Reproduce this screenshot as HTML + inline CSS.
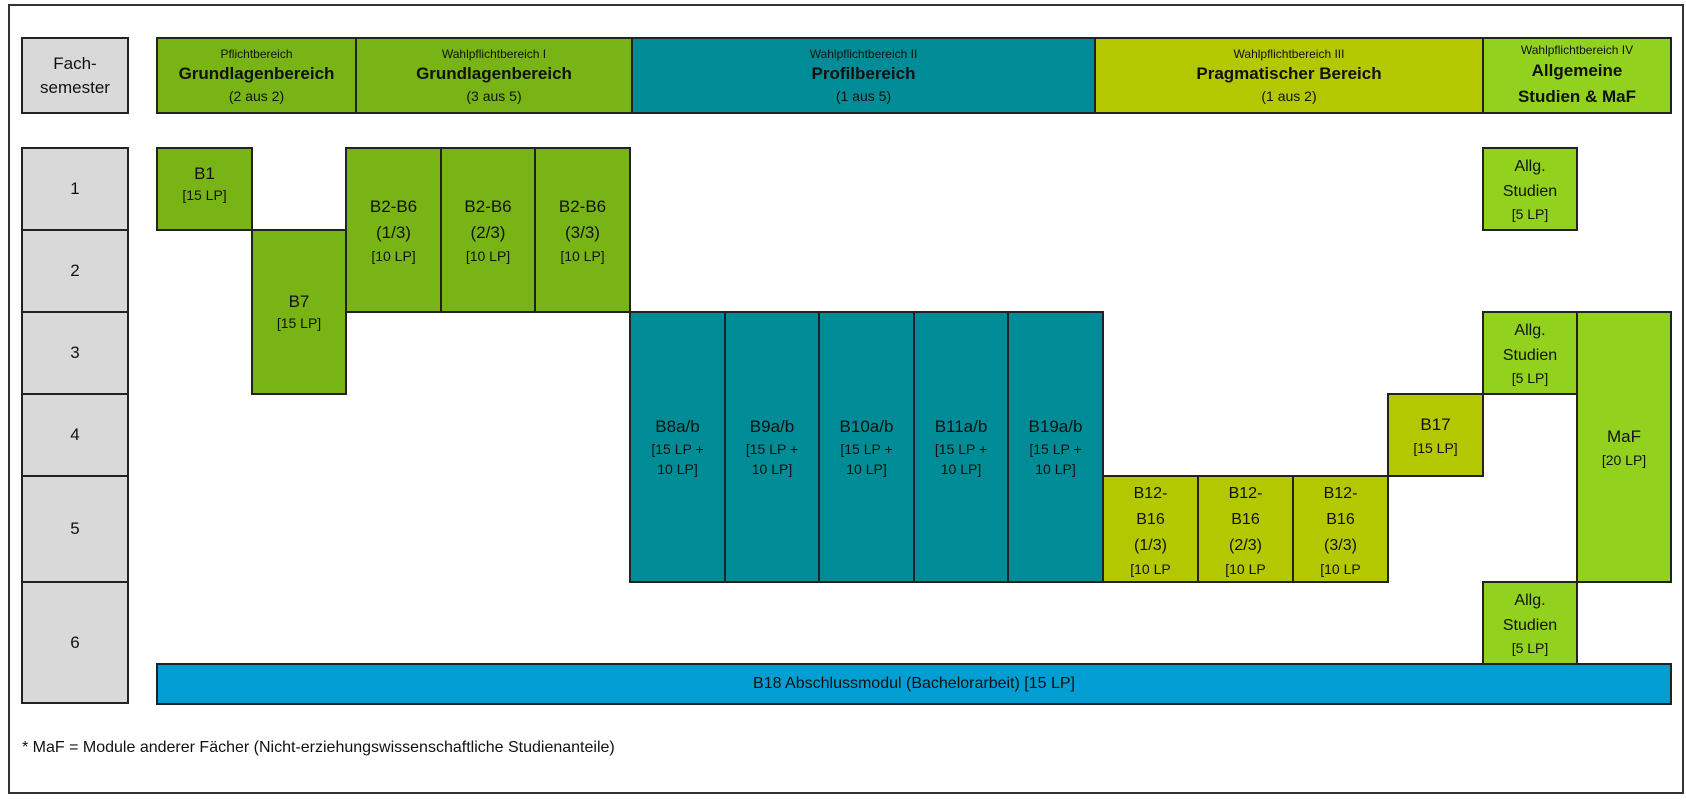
<!DOCTYPE html>
<html><head><meta charset="utf-8"><style>
body{margin:0;width:1686px;height:800px;background:#fff;position:relative;overflow:hidden;font-family:"Liberation Sans",sans-serif;color:#111}
.b{position:absolute;box-sizing:border-box;border:2px solid #222;display:flex;flex-direction:column;align-items:center;justify-content:center;text-align:center;font-size:16px;line-height:22px;overflow:hidden}
.g{background:#78b416}.t{background:#008c96}.y{background:#b4c800}.l{background:#92d21e}.bl{background:#009ed2}.gr{background:#d9d9d9}
.s{font-size:12px;line-height:16px}.h{font-weight:bold;font-size:17px;line-height:24px}.p{font-size:14px;line-height:20px}
.m div{font-size:16px}
</style></head><body>
<div style="position:absolute;left:8px;top:4px;width:1676px;height:790px;border:2px solid #333;box-sizing:border-box"></div>

<div class="b gr" style="left:21px;top:37px;width:108px;height:77px;font-size:17px;line-height:24px">Fach-<br>semester</div>
<div class="b g" style="left:156px;top:37px;width:201px;height:77px"><div class="s">Pflichtbereich</div><div class="h">Grundlagenbereich</div><div class="p">(2 aus 2)</div></div>
<div class="b g" style="left:355px;top:37px;width:278px;height:77px"><div class="s">Wahlpflichtbereich I</div><div class="h">Grundlagenbereich</div><div class="p">(3 aus 5)</div></div>
<div class="b t" style="left:631px;top:37px;width:465px;height:77px"><div class="s">Wahlpflichtbereich II</div><div class="h">Profilbereich</div><div class="p">(1 aus 5)</div></div>
<div class="b y" style="left:1094px;top:37px;width:390px;height:77px"><div class="s">Wahlpflichtbereich III</div><div class="h">Pragmatischer Bereich</div><div class="p">(1 aus 2)</div></div>
<div class="b l" style="left:1482px;top:37px;width:190px;height:77px"><div class="s">Wahlpflichtbereich IV</div><div class="h" style="line-height:26px">Allgemeine<br>Studien &amp; MaF</div></div>

<div class="b gr" style="left:21px;top:147px;width:108px;height:84px;font-size:17px">1</div>
<div class="b gr" style="left:21px;top:229px;width:108px;height:84px;font-size:17px">2</div>
<div class="b gr" style="left:21px;top:311px;width:108px;height:84px;font-size:17px">3</div>
<div class="b gr" style="left:21px;top:393px;width:108px;height:84px;font-size:17px">4</div>
<div class="b gr" style="left:21px;top:475px;width:108px;height:108px;font-size:17px">5</div>
<div class="b gr" style="left:21px;top:581px;width:108px;height:123px;font-size:17px">6</div>

<div class="b g" style="left:156px;top:147px;width:97px;height:84px;justify-content:flex-start;padding-top:14px"><div style="font-size:17px">B1</div><div class="p">[15 LP]</div></div>
<div class="b g" style="left:251px;top:229px;width:96px;height:166px"><div style="font-size:17px">B7</div><div class="p">[15 LP]</div></div>
<div class="b g" style="left:345px;top:147px;width:97px;height:166px;font-size:17px;line-height:26px">B2-B6<br>(1/3)<br><span class="p">[10 LP]</span></div>
<div class="b g" style="left:440px;top:147px;width:96px;height:166px;font-size:17px;line-height:26px">B2-B6<br>(2/3)<br><span class="p">[10 LP]</span></div>
<div class="b g" style="left:534px;top:147px;width:97px;height:166px;font-size:17px;line-height:26px">B2-B6<br>(3/3)<br><span class="p">[10 LP]</span></div>

<div class="b t" style="left:629px;top:311px;width:97px;height:272px;font-size:17px;line-height:24px">B8a/b<br><span class="p">[15 LP +<br>10 LP]</span></div>
<div class="b t" style="left:724px;top:311px;width:96px;height:272px;font-size:17px;line-height:24px">B9a/b<br><span class="p">[15 LP +<br>10 LP]</span></div>
<div class="b t" style="left:818px;top:311px;width:97px;height:272px;font-size:17px;line-height:24px">B10a/b<br><span class="p">[15 LP +<br>10 LP]</span></div>
<div class="b t" style="left:913px;top:311px;width:96px;height:272px;font-size:17px;line-height:24px">B11a/b<br><span class="p">[15 LP +<br>10 LP]</span></div>
<div class="b t" style="left:1007px;top:311px;width:97px;height:272px;font-size:17px;line-height:24px">B19a/b<br><span class="p">[15 LP +<br>10 LP]</span></div>

<div class="b y" style="left:1102px;top:475px;width:97px;height:108px;justify-content:flex-start;padding-top:4px;font-size:16px;line-height:26px">B12-<br>B16<br>(1/3)<br><span class="p">[10 LP</span></div>
<div class="b y" style="left:1197px;top:475px;width:97px;height:108px;justify-content:flex-start;padding-top:4px;font-size:16px;line-height:26px">B12-<br>B16<br>(2/3)<br><span class="p">[10 LP</span></div>
<div class="b y" style="left:1292px;top:475px;width:97px;height:108px;justify-content:flex-start;padding-top:4px;font-size:16px;line-height:26px">B12-<br>B16<br>(3/3)<br><span class="p">[10 LP</span></div>
<div class="b y" style="left:1387px;top:393px;width:97px;height:84px;font-size:17px;line-height:26px">B17<br><span class="p">[15 LP]</span></div>

<div class="b l" style="left:1482px;top:147px;width:96px;height:84px;font-size:16px;line-height:25px">Allg.<br>Studien<br><span class="p">[5 LP]</span></div>
<div class="b l" style="left:1482px;top:311px;width:96px;height:84px;font-size:16px;line-height:25px">Allg.<br>Studien<br><span class="p">[5 LP]</span></div>
<div class="b l" style="left:1482px;top:581px;width:96px;height:84px;font-size:16px;line-height:25px">Allg.<br>Studien<br><span class="p">[5 LP]</span></div>
<div class="b l" style="left:1576px;top:311px;width:96px;height:272px;font-size:17px;line-height:26px">MaF<br><span class="p">[20 LP]</span></div>

<div class="b bl" style="left:156px;top:663px;width:1516px;height:42px;font-size:16px">B18 Abschlussmodul (Bachelorarbeit) [15 LP]</div>

<div style="position:absolute;left:22px;top:739px;font-size:16px">* MaF = Module anderer Fächer (Nicht-erziehungswissenschaftliche Studienanteile)</div>
</body></html>
